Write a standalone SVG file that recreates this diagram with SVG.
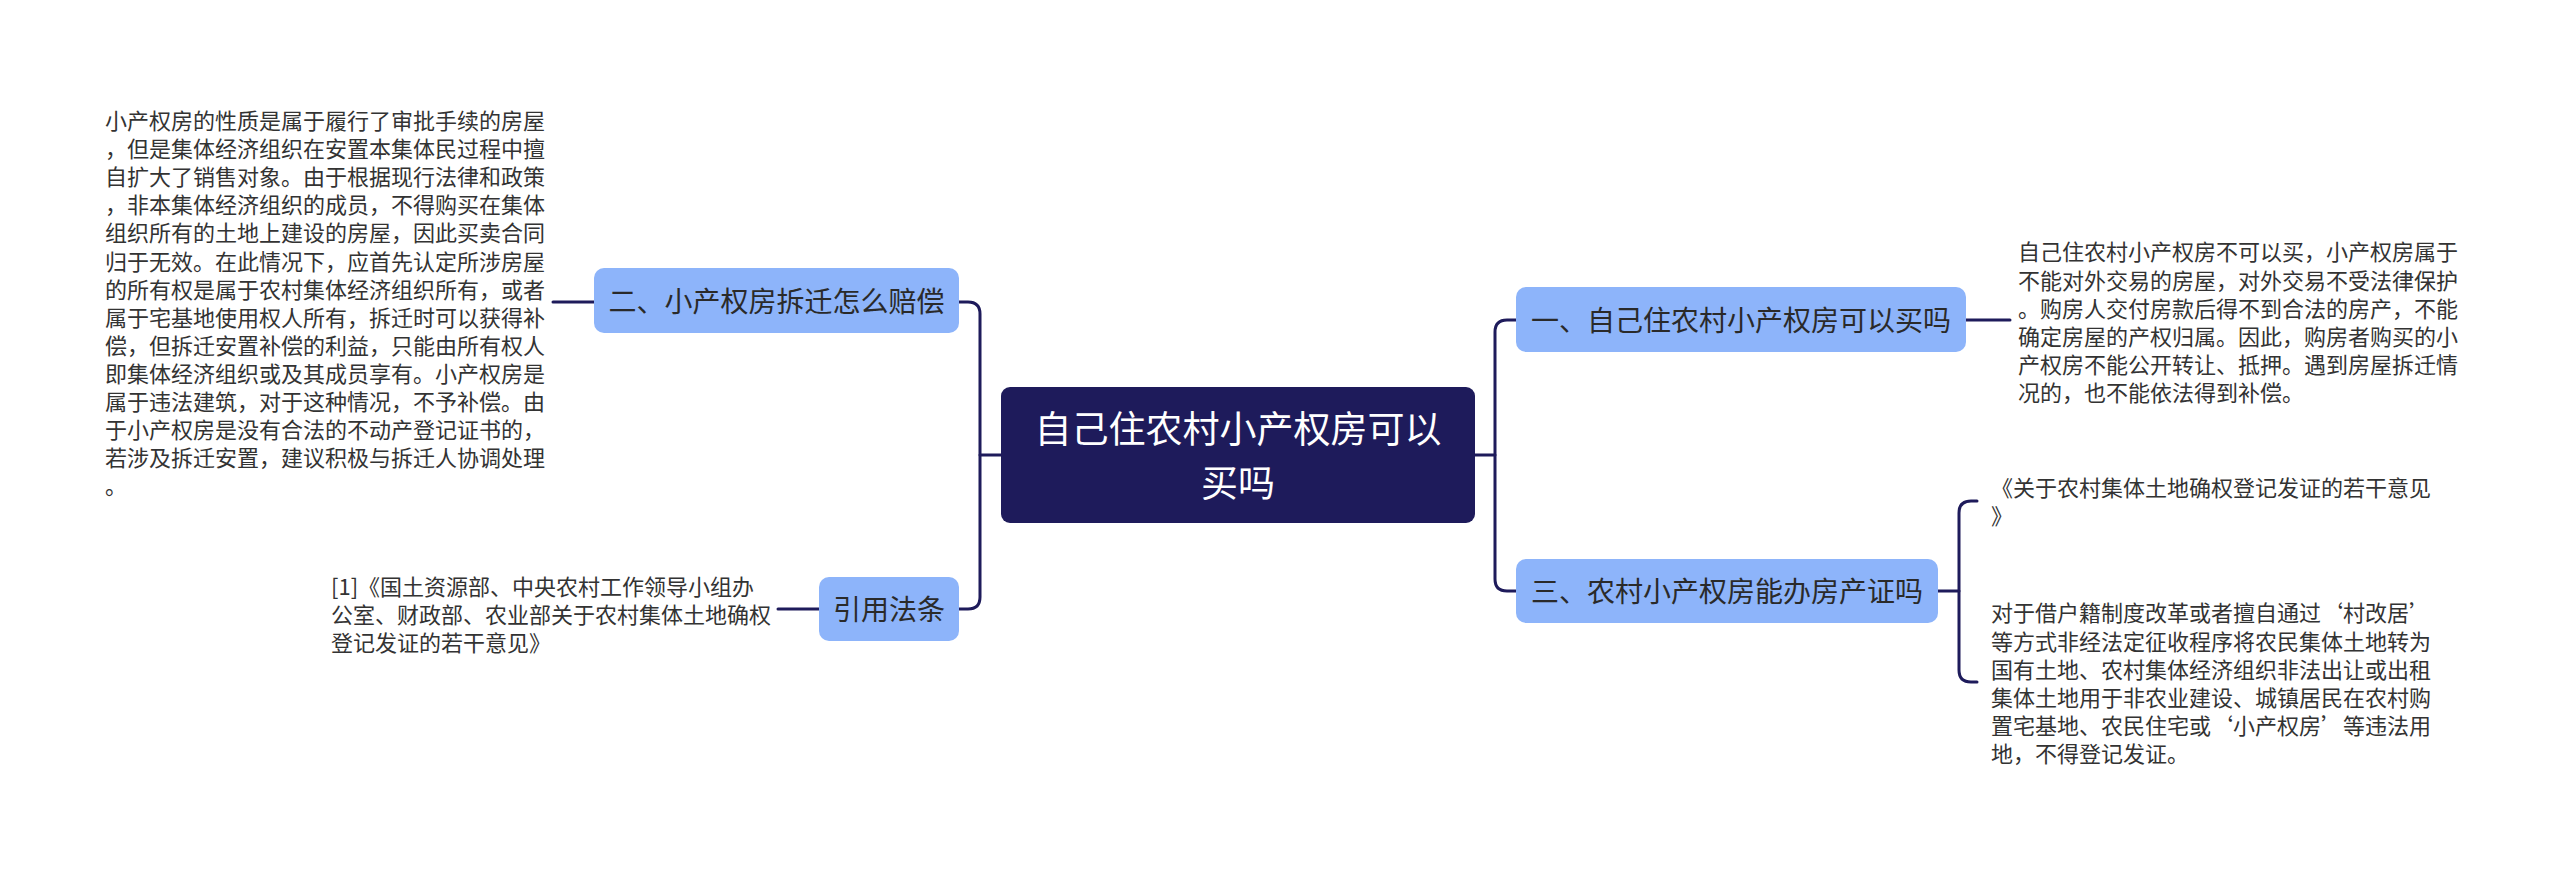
<svg xmlns="http://www.w3.org/2000/svg" width="2560" height="871" viewBox="0 0 2560 871">
<style>
text{font-family:"Noto Sans CJK SC","Noto Sans",sans-serif;}
.root{fill:#1e1b5b;}
.rootT{fill:#ffffff;font-size:37px;text-anchor:middle;}
.sub{fill:#8db4fa;}
.subT{fill:#2a2a2a;font-size:28px;text-anchor:middle;}
.desc{fill:#333333;font-size:22px;}
.conn path{fill:none;stroke:#1e1b5b;stroke-width:3;stroke-linecap:round;}
</style>
<rect width="2560" height="871" fill="#ffffff"/>
<g class="conn" id="connectors">
<path d="M1001,455 H980"/>
<path d="M959,302 H968 Q980,302 980,314 V597 Q980,609 968,609 H959"/>
<path d="M1475,455 H1495"/>
<path d="M1516,320 H1507 Q1495,320 1495,332 V579 Q1495,591 1507,591 H1516"/>
<path d="M594,302 H553"/>
<path d="M819,609 H778"/>
<path d="M1966,320 H2010"/>
<path d="M1938,591 H1959"/>
<path d="M1977,501 H1971 Q1959,501 1959,513 V670 Q1959,682 1971,682 H1977"/>
</g>
<g id="root">
<rect class="root" x="1001" y="387" width="474" height="136" rx="9"/>
<text class="rootT" x="1238" y="443">自己住农村小产权房可以</text>
<text class="rootT" x="1238" y="497">买吗</text>
</g>
<g id="n2">
<rect class="sub" x="594" y="268" width="365" height="65" rx="10"/>
<text class="subT" x="776.5" y="312">二、小产权房拆迁怎么赔偿</text>
</g>
<g id="n2text">
<text class="desc" x="105" y="129">小产权房的性质是属于履行了审批手续的房屋</text>
<text class="desc" x="105" y="157.1">，但是集体经济组织在安置本集体民过程中擅</text>
<text class="desc" x="105" y="185.2">自扩大了销售对象。由于根据现行法律和政策</text>
<text class="desc" x="105" y="213.3">，非本集体经济组织的成员，不得购买在集体</text>
<text class="desc" x="105" y="241.4">组织所有的土地上建设的房屋，因此买卖合同</text>
<text class="desc" x="105" y="269.5">归于无效。在此情况下，应首先认定所涉房屋</text>
<text class="desc" x="105" y="297.6">的所有权是属于农村集体经济组织所有，或者</text>
<text class="desc" x="105" y="325.7">属于宅基地使用权人所有，拆迁时可以获得补</text>
<text class="desc" x="105" y="353.8">偿，但拆迁安置补偿的利益，只能由所有权人</text>
<text class="desc" x="105" y="381.9">即集体经济组织或及其成员享有。小产权房是</text>
<text class="desc" x="105" y="410">属于违法建筑，对于这种情况，不予补偿。由</text>
<text class="desc" x="105" y="438.1">于小产权房是没有合法的不动产登记证书的，</text>
<text class="desc" x="105" y="466.2">若涉及拆迁安置，建议积极与拆迁人协调处理</text>
<text class="desc" x="105" y="494.3">。</text>
</g>
<g id="nref">
<rect class="sub" x="819" y="577" width="140" height="64" rx="10"/>
<text class="subT" x="889" y="620">引用法条</text>
</g>
<g id="nreftext">
<text class="desc" x="331" y="595.4">[1]《国土资源部、中央农村工作领导小组办</text>
<text class="desc" x="331" y="623.4">公室、财政部、农业部关于农村集体土地确权</text>
<text class="desc" x="331" y="651.4">登记发证的若干意见》</text>
</g>
<g id="n1">
<rect class="sub" x="1516" y="287" width="450" height="65" rx="10"/>
<text class="subT" x="1741" y="330.5">一、自己住农村小产权房可以买吗</text>
</g>
<g id="n1text">
<text class="desc" x="2018" y="260.4">自己住农村小产权房不可以买，小产权房属于</text>
<text class="desc" x="2018" y="288.6">不能对外交易的房屋，对外交易不受法律保护</text>
<text class="desc" x="2018" y="316.8">。购房人交付房款后得不到合法的房产，不能</text>
<text class="desc" x="2018" y="345">确定房屋的产权归属。因此，购房者购买的小</text>
<text class="desc" x="2018" y="373.2">产权房不能公开转让、抵押。遇到房屋拆迁情</text>
<text class="desc" x="2018" y="401.4">况的，也不能依法得到补偿。</text>
</g>
<g id="n3">
<rect class="sub" x="1516" y="559" width="422" height="64" rx="10"/>
<text class="subT" x="1727" y="601.5">三、农村小产权房能办房产证吗</text>
</g>
<g id="n3text1">
<text class="desc" x="1991" y="496.4">《关于农村集体土地确权登记发证的若干意见</text>
<text class="desc" x="1991" y="524.4">》</text>
</g>
<g id="n3text2">
<text class="desc" x="1991" y="621.4">对于借户籍制度改革或者擅自通过‘村改居’</text>
<text class="desc" x="1991" y="649.5">等方式非经法定征收程序将农民集体土地转为</text>
<text class="desc" x="1991" y="677.6">国有土地、农村集体经济组织非法出让或出租</text>
<text class="desc" x="1991" y="705.7">集体土地用于非农业建设、城镇居民在农村购</text>
<text class="desc" x="1991" y="733.8">置宅基地、农民住宅或‘小产权房’等违法用</text>
<text class="desc" x="1991" y="761.9">地，不得登记发证。</text>
</g>
</svg>
